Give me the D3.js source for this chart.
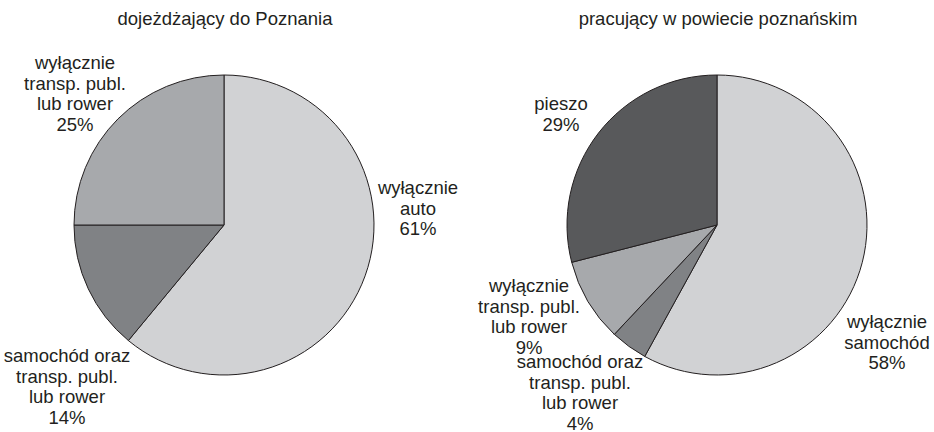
<!DOCTYPE html>
<html>
<head>
<meta charset="utf-8">
<script src="https://cdn.jsdelivr.net/npm/d3@7"></script>
<style>
  body { margin: 0; background: #fff; }
  svg text { font-family: "Liberation Sans", Arial, sans-serif; fill: #231f20; }
</style>
</head>
<body>
<div id="vis-container"></div>
<script>
// data
var titles = ['dojeżdżający do Poznania', 'pracujący w powiecie poznańskim']
var leftCats = ['wyłącznie\nauto', 'samochód oraz\ntransp. publ.\nlub rower', 'wyłącznie\ntransp. publ.\nlub rower']
var leftValues = [61, 14, 25]
var rightCats = ['wyłącznie\nsamochód', 'samochód oraz\ntransp. publ.\nlub rower', 'wyłącznie\ntransp. publ.\nlub rower', 'pieszo']
var rightValues = [58, 4, 9, 29]

// styles / layout
var W = 934, H = 432
var r = 150
var lineH = 20.6
var fontSize = '18.5px'
var leftFills = ['#d1d2d4', '#808285', '#a7a9ac']
var rightFills = ['#d1d2d4', '#808285', '#a7a9ac', '#58595b']
// label anchor (center x, first baseline) relative to the pie center
var leftLabelPos = [[194, -31], [-157, 137], [-149, -156]]
var rightLabelPos = [[170, 103], [-137, 143], [-188, 67], [-156, -115]]

var svg = d3.select('#vis-container').append('svg')
    .attr('width', W)
    .attr('height', H)

var pie = d3.pie().sort(null).value(function (d) { return d })
var arc = d3.arc().innerRadius(0).outerRadius(r)

function drawPie(cx, cy, title, cats, values, fills, labelPos) {
  var g = svg.append('g').attr('transform', 'translate(' + cx + ',' + cy + ')')

  g.append('text')
    .attr('x', 1)
    .attr('y', -200)
    .attr('text-anchor', 'middle')
    .style('font-size', fontSize)
    .text(title)

  g.selectAll('path')
      .data(pie(values))
      .enter()
    .append('path')
      .attr('d', arc)
      .attr('fill', function (d, i) { return fills[i] })
      .attr('stroke', '#231f20')
      .attr('stroke-width', 1)

  g.selectAll('text.lbl')
      .data(values)
      .enter()
    .append('text')
      .attr('class', 'lbl')
      .attr('text-anchor', 'middle')
      .style('font-size', fontSize)
      .attr('x', function (d, i) { return labelPos[i][0] })
      .attr('y', function (d, i) { return labelPos[i][1] })
      .each(function (d, i) {
        var lines = cats[i].split('\n').concat([d + '%'])
        var t = d3.select(this)
        lines.forEach(function (l, j) {
          t.append('tspan')
            .attr('x', labelPos[i][0])
            .attr('dy', j == 0 ? 0 : lineH)
            .text(l)
        })
      })
}

drawPie(224, 225, titles[0], leftCats, leftValues, leftFills, leftLabelPos)
drawPie(717, 225, titles[1], rightCats, rightValues, rightFills, rightLabelPos)
</script>
</body>
</html>
